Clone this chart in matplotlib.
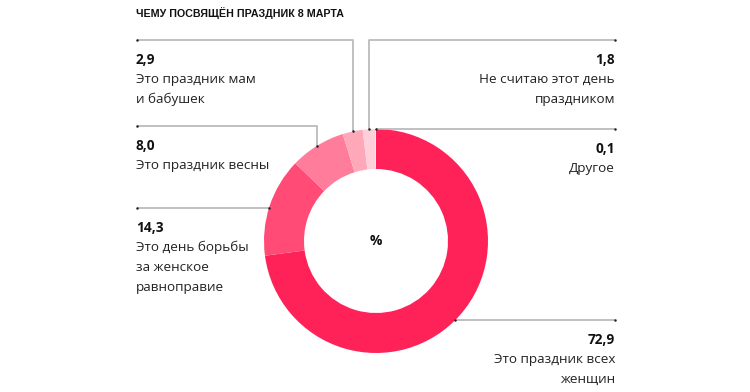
import matplotlib.pyplot as plt
import numpy as np

# data
values = [72.9, 14.3, 8.0, 2.9, 1.8, 0.1]
value_labels = ['72,9', '14,3', '8,0', '2,9', '1,8', '0,1']
captions = ['Это праздник всех\nженщин',
            'Это день борьбы\nза женское\nравноправие',
            'Это праздник весны',
            'Это праздник мам\nи бабушек',
            'Не считаю этот день\nпраздником',
            'Другое']
colors = ['#ff2258', '#ff4b76', '#ff7d9a', '#ffa8ba', '#ffd0da', '#ffe6ec']
title = 'ЧЕМУ ПОСВЯЩЁН ПРАЗДНИК 8 МАРТА'

# layout (pixels, y from top)
W, H = 750, 392
cx, cy = 376, 241
R, ring = 112, 40
sides = ['right', 'left', 'left', 'left', 'right', 'right']
kinds = ['h', 'h', 'v', 'v', 'v', 'v']
line_y = [320, 208, 126, 40, 40, 129]
xl, xr = 137, 615

plt.rcParams['font.family'] = ['Open Sans', 'DejaVu Sans']
fig = plt.figure(figsize=(7.5, 3.92), dpi=100)
ax = fig.add_axes([0, 0, 1, 1])

wedges, _ = ax.pie(values, colors=colors, startangle=90, counterclock=False,
                   center=(cx, H - cy), radius=R,
                   wedgeprops=dict(width=ring, edgecolor='none'))
ax.set_xlim(0, W)
ax.set_ylim(0, H)
ax.set_aspect('auto')
ax.axis('off')

def T(y):
    return H - y

for i, w in enumerate(wedges):
    ly = line_y[i]
    if kinds[i] == 'h':
        dy = ly - cy
        dx = np.sqrt(R**2 - dy**2)
        ax_x = cx + dx if sides[i] == 'right' else cx - dx
        ax_y = ly
    else:
        mid = np.deg2rad((w.theta1 + w.theta2) / 2)
        ax_x = cx + R * np.cos(mid)
        ax_y = cy - np.sqrt(R**2 - (ax_x - cx)**2)
    end_x = xr if sides[i] == 'right' else xl
    xs = [end_x, ax_x, ax_x]
    ys = [ly, ly, ax_y]
    ax.plot(xs, [T(v) for v in ys], color='#b5b5b5', lw=1.2,
            solid_capstyle='butt', zorder=1)
    ax.plot([end_x, ax_x], [T(ly), T(ax_y)], 'o', color='#222222',
            ms=1.8, mew=0, zorder=2)

    ha = 'right' if sides[i] == 'right' else 'left'
    tx = xr if sides[i] == 'right' else xl - 1
    ax.text(tx, T(ly + 23.5), value_labels[i], ha=ha, va='baseline',
            fontsize=9.8, fontweight='bold', color='#111111')
    for k, line in enumerate(captions[i].split('\n')):
        ax.text(tx, T(ly + 43 + 20 * k), line, ha=ha, va='baseline',
                fontsize=9.7, color='#222222')

ax.text(cx, T(cy), '%', ha='center', va='center', fontsize=10,
        fontweight='bold', color='#111111')
ax.text(xl - 1, T(16.5), title, ha='left', va='baseline', fontsize=7.7,
        fontweight='bold', color='#111111', family=['Liberation Sans'])

fig.savefig('out.png', dpi=100, facecolor='white')
